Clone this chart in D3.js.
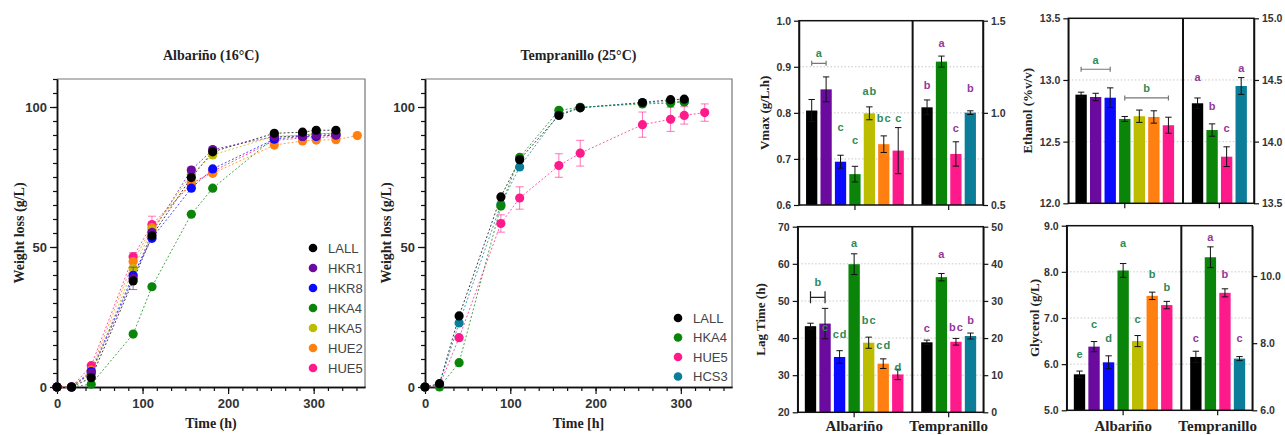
<!DOCTYPE html>
<html lang="en">
<head>
<meta charset="UTF-8">
<title>Fermentation kinetics</title>
<script src="https://cdn.jsdelivr.net/npm/d3@7"></script>
<style>
  body { margin: 0; background: #fff; }
  svg { display: block; }
  .serif { font-family: "Liberation Serif", "Times New Roman", serif; font-weight: bold; fill: #222; }
  .tick text { font-family: "Liberation Sans", Arial, sans-serif; font-weight: bold; fill: #333; }
  .legend { font-family: "Liberation Sans", Arial, sans-serif; font-size: 13px; fill: #444; }
  .letter { font-family: "Liberation Sans", Arial, sans-serif; font-weight: bold; font-size: 11px; letter-spacing: 1px; }
</style>
</head>
<body>
<svg id="fig" width="1285" height="435"></svg>
<script>
// ---- weight loss curves ----
const albTimes = [0, 17, 40, 89, 111, 157, 182, 254, 287, 303, 326, 351];
const albLALL = [0, 0, 3.3, 37.9, 54, 74.8, 84, 90.6, 91, 91.7, 91.7, null];
const albHKR1 = [0, 0, 5, 38.8, 55.2, 77.5, 84.8, 89.5, 89.5, 90, 90, null];
const albHKR8 = [0, 0, 5.5, 39.9, 53.1, 71, 77.9, 88.5, 89.5, 89.5, 90, null];
const albHKA4 = [0, 0, 1, 18.9, 35.8, 61.7, 71, 89, 90, 90.5, 90.5, null];
const albHKA5 = [0, 0, 4.5, 42.3, 56, 76, 82.9, 89.5, 90, 90.5, 90.5, null];
const albHUE2 = [0, 0, 6, 44.8, 56.9, 73, 76.3, 86.4, 87.9, 88.2, 88.3, 89.8];
const albHUE5 = [0, 0, 7.6, 46.5, 58, 72.4, 77, 88, 89, 89, 89.5, null];
const albHKR1err = [0, 0, 0, 4, 1, 1, 0.5, 0, 0, 0, 0, 0];
const albHUE5err = [0, 0, 0.5, 1.5, 3, 1, 0.5, 0, 0, 0, 0, 0];

const temTimes = [0, 17, 40, 89, 111, 157, 182, 255, 288, 304, 328];
const temLALL = [0, 1.2, 25.4, 67.9, 81.2, 97, 99.7, 101.6, 102.6, 102.8, null];
const temHKA4 = [0, 0, 8.7, 64.6, 82, 98.8, 99.9, 101.1, 101.4, 101.8, null];
const temHUE5 = [0, 0.5, 17.6, 58.4, 67.5, 79.1, 83.5, 93.7, 95.6, 97, 98];
const temHCS3 = [0, 1, 22.9, 65.2, 78.6, 97.5, 99.8, 101.5, 102, 102, null];
const temHUE5err = [0, 0, 0, 3.1, 4, 4.2, 4.6, 4.5, 4.3, 3.1, 3.1];

// ---- bar charts ----
const albStrains = ['LALL', 'HKR1', 'HKR8', 'HKA4', 'HKA5', 'HUE2', 'HUE5'];
const temStrains = ['LALL', 'HKA4', 'HUE5', 'HCS3'];

const vmaxAlb = [0.805, 0.851, 0.694, 0.667, 0.799, 0.732, 0.718];
const vmaxAlbErr = [0.024, 0.027, 0.014, 0.017, 0.014, 0.018, 0.05];
const vmaxTem = [1.03, 1.278, 0.777, 1.001];
const vmaxTemErr = [0.04, 0.03, 0.066, 0.01];
const vmaxAlbLetters = ['', '', 'c', 'c', 'ab', 'bc', 'c'];
const vmaxAlbLetterY = [0, 0, 0.769, 0.741, 0.848, 0.788, 0.788];
const vmaxTemLetters = ['b', 'a', 'c', 'b'];
const vmaxTemLetterY = [1.151, 1.377, 0.916, 1.133];

const ethAlb = [12.881, 12.862, 12.856, 12.684, 12.706, 12.70, 12.633];
const ethAlbErr = [0.02, 0.03, 0.08, 0.02, 0.05, 0.05, 0.065];
const ethTem = [14.311, 14.094, 13.878, 14.451];
const ethTemErr = [0.043, 0.05, 0.08, 0.068];
const ethAlbLetters = ['', '', '', '', '', '', ''];
const ethAlbLetterY = [0, 0, 0, 0, 0, 0, 0];
const ethTemLetters = ['a', 'b', 'c', 'a'];
const ethTemLetterY = [14.522, 14.289, 14.113, 14.6];

const lagAlb = [43.2, 43.9, 34.9, 59.9, 38.75, 33.1, 30.2];
const lagAlbErr = [0.8, 4.1, 1.7, 2.8, 1.5, 1.3, 1.4];
const lagTem = [18.85, 36.4, 19.0, 20.55];
const lagTemErr = [0.6, 1.0, 0.9, 0.8];
const lagAlbLetters = ['', 'c', 'cd', 'a', 'bc', 'cd', 'd'];
const lagAlbLetterY = [0, 43.05, 41.09, 65.52, 44.86, 38.13, 32.28];
const lagTemLetters = ['c', 'a', 'bc', 'b'];
const lagTemLetterY = [22.62, 42.55, 23.05, 24.86];

const glyAlb = [5.78, 6.38, 6.04, 8.03, 6.50, 7.48, 7.28];
const glyAlbErr = [0.07, 0.11, 0.14, 0.15, 0.12, 0.08, 0.08];
const glyTem = [7.59, 10.56, 9.50, 7.54];
const glyTemErr = [0.17, 0.31, 0.12, 0.06];
const glyAlbLetters = ['e', 'c', 'd', 'a', 'c', 'b', 'b'];
const glyAlbLetterY = [6.213, 6.863, 6.573, 8.619, 6.978, 7.947, 7.678];
const glyTemLetters = ['c', 'a', 'b', 'c'];
const glyTemLetterY = [8.163, 11.173, 10.052, 8.163];

// brackets: [first bar, last bar, bracket value, label, label value]
const vmaxBrackets = [[0, 1, 0.9075, 'a', 0.93]];
const ethBrackets = [[0, 2, 13.087, 'a', 13.162], [3, 6, 12.854, 'b', 12.938]];
const lagBrackets = [[0, 1, 50.97, 'b', 55.17]];
const glyBrackets = [];

const colors = {
  LALL: '#000000', HKR1: '#6a0a9e', HKR8: '#0a0aff', HKA4: '#0a850a',
  HKA5: '#bdbd00', HUE2: '#ff8010', HUE5: '#ff1a8c', HCS3: '#0b7d99'
};
const green = '#2f8a57';
const purple = '#93379a';

const svg = d3.select('#fig');

function styleAxis(g, fontSize) {
  g.select('.domain').attr('stroke', '#111').attr('stroke-width', 1.5);
  g.selectAll('.tick line').attr('stroke', '#111').attr('stroke-width', 1.2);
  g.selectAll('.tick text').style('font-size', fontSize + 'px');
}

function linePanel(o) {
  const x = d3.scaleLinear().domain([0, 360]).range([o.x0, o.x1]);
  const y = d3.scaleLinear().domain([0, 110]).range([387, 79]);
  const g = svg.append('g');

  g.append('path')
    .attr('d', `M${o.x0},79H${o.x1}V387`)
    .attr('fill', 'none').attr('stroke', '#777').attr('stroke-width', 1.2);

  // minor ticks
  g.append('g').attr('transform', 'translate(0,387)')
    .call(d3.axisBottom(x).tickValues(d3.range(0, 361, 100 / 6)).tickSize(4).tickSizeOuter(0).tickFormat(''))
    .call(a => styleAxis(a, 13));
  g.append('g').attr('transform', `translate(${o.x0},0)`)
    .call(d3.axisLeft(y).tickValues(d3.range(0, 111, 5)).tickSize(4).tickSizeOuter(0).tickFormat(''))
    .call(a => styleAxis(a, 13));
  // major ticks
  g.append('g').attr('transform', 'translate(0,387)')
    .call(d3.axisBottom(x).tickValues([0, 100, 200, 300]).tickSize(7).tickPadding(5).tickSizeOuter(0))
    .call(a => styleAxis(a, 13));
  g.append('g').attr('transform', `translate(${o.x0},0)`)
    .call(d3.axisLeft(y).tickValues([0, 50, 100]).tickSize(7).tickPadding(3).tickSizeOuter(0))
    .call(a => styleAxis(a, 13));

  const line = d3.line()
    .defined(d => d.v != null)
    .x(d => x(d.t)).y(d => y(d.v));

  const series = o.series.map(s => ({
    name: s.name,
    pts: o.times.map((t, i) => ({ t: t, v: s.values[i], e: s.err ? s.err[i] : 0 }))
  }));

  series.forEach(s => {
    g.append('path').datum(s.pts)
      .attr('d', line)
      .attr('fill', 'none')
      .attr('stroke', colors[s.name])
      .attr('stroke-opacity', 0.75)
      .attr('stroke-width', 1)
      .attr('stroke-dasharray', '2,2');
  });

  series.slice().reverse().forEach(s => {
    const pts = s.pts.filter(d => d.v != null);
    const eb = g.append('g').attr('stroke', colors[s.name]).attr('stroke-opacity', 0.6).attr('stroke-width', 1);
    pts.filter(d => d.e > 0).forEach(d => {
      const cx = x(d.t), y1 = y(d.v + d.e), y2 = y(d.v - d.e);
      eb.append('path').attr('d', `M${cx},${y1}V${y2}M${cx - 4},${y1}H${cx + 4}M${cx - 4},${y2}H${cx + 4}`);
    });
    g.selectAll(null).data(pts).enter().append('circle')
      .attr('cx', d => x(d.t)).attr('cy', d => y(d.v))
      .attr('r', 4.6).attr('fill', colors[s.name]);
  });

  // legend
  const lg = g.append('g');
  o.series.forEach((s, i) => {
    const ly = o.legendY + i * o.legendStep;
    lg.append('circle').attr('cx', o.legendX).attr('cy', ly).attr('r', 4.3).attr('fill', colors[s.name]);
    lg.append('text').attr('class', 'legend').attr('x', o.legendX + 15).attr('y', ly)
      .attr('dominant-baseline', 'central').text(s.name);
  });

  const cx = (o.x0 + o.x1) / 2;
  g.append('text').attr('class', 'serif').attr('x', cx).attr('y', 60)
    .attr('text-anchor', 'middle').style('font-size', '14px').text(o.title);
  g.append('text').attr('class', 'serif').attr('x', cx).attr('y', 428)
    .attr('text-anchor', 'middle').style('font-size', '14px').text(o.xLabel);
  g.append('text').attr('class', 'serif')
    .attr('transform', `translate(${o.yLabelX},233) rotate(-90)`)
    .attr('text-anchor', 'middle').attr('dominant-baseline', 'central')
    .style('font-size', '14px').text('Weight loss (g/L)');
}

linePanel({
  x0: 57, x1: 365, times: albTimes,
  title: 'Albariño (16°C)', xLabel: 'Time (h)', yLabelX: 19,
  legendX: 313, legendY: 248, legendStep: 20,
  series: [
    { name: 'LALL', values: albLALL },
    { name: 'HKR1', values: albHKR1, err: albHKR1err },
    { name: 'HKR8', values: albHKR8 },
    { name: 'HKA4', values: albHKA4 },
    { name: 'HKA5', values: albHKA5 },
    { name: 'HUE2', values: albHUE2 },
    { name: 'HUE5', values: albHUE5, err: albHUE5err }
  ]
});

linePanel({
  x0: 425, x1: 732, times: temTimes,
  title: 'Tempranillo (25°C)', xLabel: 'Time [h]', yLabelX: 386,
  legendX: 678, legendY: 318, legendStep: 19.5,
  series: [
    { name: 'LALL', values: temLALL },
    { name: 'HKA4', values: temHKA4 },
    { name: 'HUE5', values: temHUE5, err: temHUE5err },
    { name: 'HCS3', values: temHCS3 }
  ]
});

function barPanel(p) {
  const x = d3.scaleBand().domain(d3.range(12)).range([p.x0, p.x1])
    .paddingInner(0.22).paddingOuter(0.49);
  const bw = x.bandwidth();
  const mid = i => x(i) + bw / 2;
  const yL = d3.scaleLinear().domain(p.left).range([p.yb, p.yt]);
  const yR = d3.scaleLinear().domain(p.right).range([p.yb, p.yt]);
  const g = svg.append('g');

  // dotted grid
  g.selectAll(null).data(p.leftTicks.slice(1, -1)).enter().append('line')
    .attr('x1', p.x0).attr('x2', p.x1)
    .attr('y1', d => yL(d)).attr('y2', d => yL(d))
    .attr('stroke', '#c8c8c8').attr('stroke-width', 1).attr('stroke-dasharray', '1.5,2');

  const bars = albStrains.map((s, i) => ({ s: s, slot: i, v: p.alb[i], e: p.albErr[i], y: yL, l: p.albLetters[i], ly: p.albLetterY[i], c: green }))
    .concat(temStrains.map((s, i) => ({ s: s, slot: 8 + i, v: p.tem[i], e: p.temErr[i], y: yR, l: p.temLetters[i], ly: p.temLetterY[i], c: purple })));

  bars.forEach(b => {
    g.append('rect')
      .attr('x', x(b.slot)).attr('width', bw)
      .attr('y', b.y(b.v)).attr('height', p.yb - b.y(b.v))
      .attr('fill', colors[b.s]);
    const cx = mid(b.slot), y1 = b.y(b.v + b.e), y2 = b.y(b.v - b.e);
    g.append('path')
      .attr('d', `M${cx},${y1}V${y2}M${cx - 3.2},${y1}H${cx + 3.2}M${cx - 3.2},${y2}H${cx + 3.2}`)
      .attr('stroke', '#111').attr('stroke-width', 1).attr('fill', 'none');
    if (b.l) {
      g.append('text').attr('class', 'letter')
        .attr('x', cx + 0.5).attr('y', b.y(b.ly))
        .attr('text-anchor', 'middle').attr('dominant-baseline', 'central')
        .attr('fill', b.c).text(b.l);
    }
  });

  p.brackets.forEach(br => {
    const xa = mid(br[0]), xb = mid(br[1]), by = yL(br[2]);
    const cap = p.capSize;
    g.append('path')
      .attr('d', `M${xa},${by - cap}V${by + cap}M${xa},${by}H${xb}M${xb},${by - cap}V${by + cap}`)
      .attr('stroke', p.bracketColor).attr('stroke-width', 1.2).attr('fill', 'none');
    g.append('text').attr('class', 'letter')
      .attr('x', (xa + xb) / 2 + 0.5).attr('y', yL(br[4]))
      .attr('text-anchor', 'middle').attr('dominant-baseline', 'central')
      .attr('fill', green).text(br[3]);
  });

  // frame
  g.append('rect').attr('x', p.x0).attr('y', p.yt)
    .attr('width', p.x1 - p.x0).attr('height', p.yb - p.yt)
    .attr('fill', 'none').attr('stroke', '#111').attr('stroke-width', 1.5);
  const dx = mid(7);
  g.append('line').attr('x1', dx).attr('x2', dx).attr('y1', p.yt).attr('y2', p.yb)
    .attr('stroke', '#111').attr('stroke-width', 2);

  g.append('g').attr('transform', `translate(${p.x0},0)`)
    .call(d3.axisLeft(yL).tickValues(p.leftTicks).tickFormat(d3.format(p.fmt)).tickSize(5).tickPadding(3).tickSizeOuter(0))
    .call(a => styleAxis(a, 10.5));
  g.append('g').attr('transform', `translate(${p.x1},0)`)
    .call(d3.axisRight(yR).tickValues(p.rightTicks).tickFormat(d3.format(p.fmt)).tickSize(5).tickPadding(3).tickSizeOuter(0))
    .call(a => styleAxis(a, 10.5));

  // category ticks on the bottom
  const catX = [mid(3), (mid(9) + mid(10)) / 2];
  g.selectAll(null).data(catX).enter().append('line')
    .attr('x1', d => d).attr('x2', d => d)
    .attr('y1', p.yb).attr('y2', p.yb + 5)
    .attr('stroke', '#111').attr('stroke-width', 1.2);
  if (p.catLabels) {
    g.selectAll(null).data(['Albariño', 'Tempranillo']).enter().append('text')
      .attr('class', 'serif').attr('x', (d, i) => catX[i]).attr('y', 431)
      .attr('text-anchor', 'middle').style('font-size', '15px').text(d => d);
  }

  g.append('text').attr('class', 'serif')
    .attr('transform', `translate(${p.labelX},${(p.yt + p.yb) / 2}) rotate(-90)`)
    .attr('text-anchor', 'middle').attr('dominant-baseline', 'central')
    .style('font-size', '13px').text(p.yLabel);
}

barPanel({
  x0: 799, x1: 983, yt: 20.7, yb: 205, labelX: 764,
  left: [0.6, 1.0], leftTicks: [0.6, 0.7, 0.8, 0.9, 1.0],
  right: [0.5, 1.5], rightTicks: [0.5, 1.0, 1.5], fmt: '.1f',
  yLabel: 'Vmax (g/L.h)',
  alb: vmaxAlb, albErr: vmaxAlbErr, tem: vmaxTem, temErr: vmaxTemErr,
  albLetters: vmaxAlbLetters, albLetterY: vmaxAlbLetterY,
  temLetters: vmaxTemLetters, temLetterY: vmaxTemLetterY,
  brackets: vmaxBrackets, capSize: 2.5, bracketColor: '#777'
});

barPanel({
  x0: 1068.3, x1: 1254, yt: 18.3, yb: 203.3, labelX: 1027,
  left: [12, 13.5], leftTicks: [12, 12.5, 13, 13.5],
  right: [13.5, 15], rightTicks: [13.5, 14, 14.5, 15], fmt: '.1f',
  yLabel: 'Ethanol (%v/v)',
  alb: ethAlb, albErr: ethAlbErr, tem: ethTem, temErr: ethTemErr,
  albLetters: ethAlbLetters, albLetterY: ethAlbLetterY,
  temLetters: ethTemLetters, temLetterY: ethTemLetterY,
  brackets: ethBrackets, capSize: 2.5, bracketColor: '#777'
});

barPanel({
  x0: 797.7, x1: 983.3, yt: 226.7, yb: 412.3, labelX: 760,
  left: [20, 70], leftTicks: [20, 30, 40, 50, 60, 70],
  right: [0, 50], rightTicks: [0, 10, 20, 30, 40, 50], fmt: 'd',
  yLabel: 'Lag Time (h)', catLabels: true,
  alb: lagAlb, albErr: lagAlbErr, tem: lagTem, temErr: lagTemErr,
  albLetters: lagAlbLetters, albLetterY: lagAlbLetterY,
  temLetters: lagTemLetters, temLetterY: lagTemLetterY,
  brackets: lagBrackets, capSize: 6, bracketColor: '#222'
});

barPanel({
  x0: 1066.7, x1: 1252.3, yt: 225.7, yb: 410.3, labelX: 1034,
  left: [5, 9], leftTicks: [5, 6, 7, 8, 9],
  right: [6, 11.5], rightTicks: [6, 8, 10], fmt: '.1f',
  yLabel: 'Glycerol (g/L)', catLabels: true,
  alb: glyAlb, albErr: glyAlbErr, tem: glyTem, temErr: glyTemErr,
  albLetters: glyAlbLetters, albLetterY: glyAlbLetterY,
  temLetters: glyTemLetters, temLetterY: glyTemLetterY,
  brackets: glyBrackets, capSize: 2.5, bracketColor: '#777'
});
</script>
</body>
</html>
